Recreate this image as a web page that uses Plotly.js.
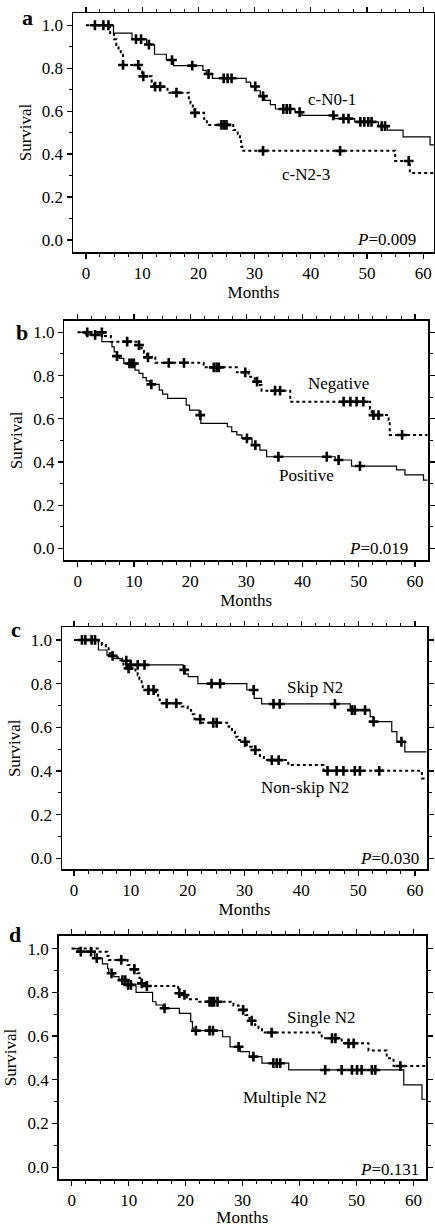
<!DOCTYPE html>
<html><head><meta charset="utf-8">
<script src="https://cdn.plot.ly/plotly-3.0.1.min.js"></script>
<style>html,body{margin:0;padding:0;background:#fff}#chart{width:435px;height:1227px}</style>
</head><body><div id="chart"></div>
<script>
// ---------- Panel a: clinical N status ----------
const aN01Time = [0, 4.9, 8.2, 10.8, 12.2, 14.3, 15.6, 20.8, 21.4, 22.5, 28.5, 29.3, 30.2, 31, 31.8, 32.8, 33.7, 37.2, 38.4, 44.2, 47.8, 52.0, 53.6, 56.4, 61.2, 62];
const aN01Surv = [1.0, 0.963, 0.935, 0.91, 0.865, 0.838, 0.812, 0.79, 0.773, 0.753, 0.735, 0.715, 0.695, 0.67, 0.65, 0.63, 0.61, 0.595, 0.58, 0.565, 0.55, 0.53, 0.512, 0.48, 0.443, 0.443];
const aN01Cens = [1.6, 3.1, 8.9, 9.8, 11.2, 15.3, 18.9, 21.8, 24.5, 25.2, 25.9, 30.1, 31.5, 35.1, 35.7, 36.3, 38.0, 44.0, 45.8, 46.7, 48.8, 49.5, 50.2, 50.8, 52.6, 53.2];
const aN23Time = [0, 4.3, 5.0, 5.4, 5.8, 6.2, 6.6, 9.6, 10.0, 11.7, 12.1, 14.5, 18.3, 18.6, 19.0, 19.3, 21.0, 21.5, 26.2, 27.0, 27.4, 27.6, 27.8, 55.0, 57.6, 62];
const aN23Surv = [1.0, 0.958, 0.935, 0.908, 0.885, 0.862, 0.815, 0.784, 0.762, 0.737, 0.714, 0.686, 0.66, 0.635, 0.613, 0.592, 0.564, 0.536, 0.512, 0.492, 0.461, 0.435, 0.415, 0.368, 0.312, 0.312];
const aN23Cens = [4.0, 6.6, 9.3, 10.2, 12.3, 13.2, 16.1, 19.4, 24.1, 24.6, 25.0, 31.5, 45.2, 57.4];

// ---------- Panel b: Positive / Negative ----------
const bPosTime = [0, 1.4, 4.3, 6.1, 6.5, 7.0, 7.4, 8.2, 10.2, 10.9, 11.6, 12.2, 12.8, 14.5, 15.1, 16.0, 19.3, 19.9, 21.6, 21.9, 26.6, 27.4, 28.3, 29.2, 31.0, 32.4, 33.6, 45.8, 48.7, 56.7, 58.2, 61.5, 62.2];
const bPosSurv = [1.0, 0.988, 0.957, 0.933, 0.91, 0.89, 0.88, 0.856, 0.825, 0.81, 0.79, 0.775, 0.759, 0.733, 0.714, 0.694, 0.663, 0.64, 0.617, 0.579, 0.563, 0.54, 0.525, 0.509, 0.478, 0.455, 0.424, 0.409, 0.381, 0.363, 0.34, 0.316, 0.316];
const bPosCens = [3.1, 7.0, 9.2, 9.6, 10.0, 13.1, 21.8, 30.1, 31.6, 35.7, 44.3, 46.4, 50.2];
const bNegTime = [0, 4.5, 5.9, 10.9, 11.3, 11.8, 12.3, 13.8, 22.4, 28.3, 30.4, 31.5, 32.0, 32.7, 37.8, 52.0, 52.3, 55.3, 55.5, 62.2];
const bNegSurv = [1.0, 0.983, 0.957, 0.941, 0.926, 0.906, 0.884, 0.859, 0.838, 0.815, 0.794, 0.772, 0.756, 0.73, 0.679, 0.648, 0.617, 0.594, 0.525, 0.525];
const bNegCens = [1.7, 4.3, 8.8, 10.9, 12.5, 16.2, 18.9, 24.2, 24.7, 25.1, 29.8, 31.9, 35.1, 36.0, 47.3, 48.5, 49.6, 50.8, 52.6, 53.5, 57.7];

// ---------- Panel c: Skip / Non-skip N2 ----------
const cSkipTime = [0, 4.3, 5.8, 6.9, 8.1, 9.9, 19.2, 19.6, 20.1, 21.8, 30.4, 31.7, 33.0, 48.6, 52.1, 52.7, 55.9, 56.8, 58.2, 62.0];
const cSkipSurv = [1.0, 0.954, 0.931, 0.916, 0.905, 0.886, 0.863, 0.845, 0.832, 0.80, 0.771, 0.733, 0.707, 0.679, 0.649, 0.626, 0.58, 0.534, 0.488, 0.488];
const cSkipCens = [1.4, 3.1, 9.2, 10.0, 11.2, 12.4, 19.4, 24.2, 25.7, 31.6, 35.1, 36.2, 45.9, 48.9, 49.4, 51.2, 52.7, 57.6];
const cNonTime = [0, 4.3, 4.9, 5.6, 6.1, 6.6, 7.7, 8.4, 8.7, 9.6, 10.8, 11.2, 11.5, 11.9, 12.1, 12.4, 14.4, 14.8, 15.1, 18.9, 20.0, 20.6, 21.2, 22.5, 27.2, 27.8, 28.3, 28.8, 29.6, 30.4, 31.3, 32.7, 33.4, 37.7, 43.9, 61.2, 62.0];
const cNonSurv = [1.0, 0.992, 0.977, 0.962, 0.939, 0.927, 0.916, 0.90, 0.878, 0.87, 0.855, 0.84, 0.82, 0.80, 0.783, 0.771, 0.748, 0.728, 0.71, 0.695, 0.679, 0.66, 0.637, 0.621, 0.603, 0.58, 0.557, 0.542, 0.534, 0.511, 0.496, 0.469, 0.45, 0.427, 0.401, 0.366, 0.366];
const cNonCens = [2.0, 3.7, 6.8, 9.6, 13.1, 14.0, 16.3, 18.0, 22.2, 24.5, 25.1, 30.1, 31.9, 34.8, 36.0, 44.6, 46.2, 47.4, 49.4, 50.3, 53.7];

// ---------- Panel d: Single / Multiple N2 ----------
const dMulTime = [0, 1.1, 4.0, 5.4, 6.3, 6.5, 7.4, 8.3, 9.8, 11.3, 14.2, 14.8, 16.0, 18.9, 20.9, 21.2, 21.4, 26.5, 27.8, 29.6, 31.2, 33.4, 38.1, 58.3, 61.5, 62.1];
const dMulSurv = [1.0, 0.986, 0.956, 0.93, 0.91, 0.887, 0.872, 0.856, 0.834, 0.80, 0.757, 0.742, 0.727, 0.704, 0.666, 0.636, 0.625, 0.597, 0.551, 0.529, 0.506, 0.476, 0.445, 0.377, 0.311, 0.311];
const dMulCens = [1.6, 3.4, 4.4, 7.0, 8.9, 9.4, 9.9, 10.4, 16.3, 21.8, 24.2, 24.8, 29.3, 31.9, 35.4, 36.0, 36.6, 44.5, 47.4, 49.2, 50.1, 50.9, 52.7, 53.3];
const dSinTime = [0, 4.9, 6.3, 6.5, 9.8, 11.0, 11.5, 11.9, 12.3, 13.0, 18.7, 19.3, 20.2, 22.4, 28.4, 29.3, 30.5, 31.2, 32.2, 32.8, 33.4, 43.9, 47.4, 52.1, 55.3, 56.5, 62.2];
const dSinSurv = [1.0, 0.986, 0.966, 0.948, 0.925, 0.905, 0.887, 0.865, 0.841, 0.829, 0.796, 0.788, 0.768, 0.757, 0.74, 0.72, 0.696, 0.67, 0.651, 0.636, 0.616, 0.59, 0.567, 0.534, 0.498, 0.463, 0.463];
const dSinCens = [8.7, 11.0, 12.3, 13.2, 18.9, 19.8, 24.2, 24.6, 25.0, 25.6, 30.1, 31.6, 35.1, 45.7, 46.3, 48.6, 49.5, 57.7];

const xTickVals = [0, 10, 20, 30, 40, 50, 60];
const yTickVals = [0.0, 0.2, 0.4, 0.6, 0.8, 1.0];

const FONT = 'Liberation Serif, Times New Roman, serif';

function survAt(t, T, S) {
  let v = S[0];
  for (let i = 0; i < T.length; i++) { if (T[i] <= t) v = S[i]; else break; }
  return v;
}

function curve(T, S, dotted, xa, ya) {
  return {x: T, y: S, xaxis: xa, yaxis: ya, type: 'scatter', mode: 'lines',
    line: {shape: 'hv', color: 'black', width: dotted ? 2 : 1.2, dash: dotted ? 'dot' : 'solid'},
    hoverinfo: 'skip'};
}
function cens(C, T, S, xa, ya) {
  return {x: C, y: C.map(t => survAt(t, T, S)), xaxis: xa, yaxis: ya, type: 'scatter', mode: 'markers',
    marker: {symbol: 'cross-thin', size: 7, color: 'black', line: {width: 2.6, color: 'black'}},
    hoverinfo: 'skip'};
}

const data = [
  curve(aN01Time, aN01Surv, false, 'x', 'y'), cens(aN01Cens, aN01Time, aN01Surv, 'x', 'y'),
  curve(aN23Time, aN23Surv, true, 'x', 'y'), cens(aN23Cens, aN23Time, aN23Surv, 'x', 'y'),
  curve(bPosTime, bPosSurv, false, 'x2', 'y2'), cens(bPosCens, bPosTime, bPosSurv, 'x2', 'y2'),
  curve(bNegTime, bNegSurv, true, 'x2', 'y2'), cens(bNegCens, bNegTime, bNegSurv, 'x2', 'y2'),
  curve(cSkipTime, cSkipSurv, false, 'x3', 'y3'), cens(cSkipCens, cSkipTime, cSkipSurv, 'x3', 'y3'),
  curve(cNonTime, cNonSurv, true, 'x3', 'y3'), cens(cNonCens, cNonTime, cNonSurv, 'x3', 'y3'),
  curve(dMulTime, dMulSurv, false, 'x4', 'y4'), cens(dMulCens, dMulTime, dMulSurv, 'x4', 'y4'),
  curve(dSinTime, dSinSurv, true, 'x4', 'y4'), cens(dSinCens, dSinTime, dSinSurv, 'x4', 'y4')
];

const W = 435, H = 1227;
const FS = 17;
function common() {
  return {showline: true, linecolor: 'black', linewidth: 1.5, mirror: 'ticks', ticks: 'outside',
    ticklen: 5, tickwidth: 1.2, tickcolor: 'black', showgrid: false, zeroline: false, automargin: false,
    tickfont: {family: FONT, size: FS, color: 'black'}, fixedrange: true};
}
function xAx(left, right, r, anchor) {
  return Object.assign(common(), {domain: [left / W, right / W], range: r, anchor: anchor,
    tickmode: 'array', tickvals: xTickVals, ticktext: xTickVals.map(String),
    minor: {ticks: 'outside', ticklen: 3, tickwidth: 1, tickcolor: 'black', dtick: 2.5, tick0: 0, showgrid: false},
    title: {text: 'Months', font: {family: FONT, size: FS, color: 'black'}, standoff: 0}});
}
function yAx(top, bottom, r, anchor) {
  return Object.assign(common(), {domain: [1 - bottom / H, 1 - top / H], range: r, anchor: anchor,
    tickmode: 'array', tickvals: yTickVals, ticktext: yTickVals.map(v => v.toFixed(1)),
    minor: {ticks: 'outside', ticklen: 3, tickwidth: 1, tickcolor: 'black', dtick: 0.1, tick0: 0, showgrid: false},
    title: {text: 'Survival', font: {family: FONT, size: FS, color: 'black'}, standoff: 6}});
}

function lbl(text, x, y, xr, yr, xanchor) {
  return {text: text, x: x, y: y, xref: xr, yref: yr, showarrow: false, xanchor: xanchor || 'center', yanchor: 'middle',
    font: {family: FONT, size: FS, color: 'black'}};
}
function letter(text, px, py) {
  return {text: '<b>' + text + '</b>', x: px / W, y: 1 - py / H, xref: 'paper', yref: 'paper', showarrow: false,
    xanchor: 'center', yanchor: 'middle', font: {family: FONT, size: 22, color: 'black'}};
}

const layout = {
  width: W, height: H, margin: {l: 0, r: 0, t: 0, b: 0}, paper_bgcolor: 'white', plot_bgcolor: 'white',
  showlegend: false,
  xaxis: xAx(73, 434, [-2.3, 61.9], 'y'),
  yaxis: yAx(13, 252, [-0.056, 1.057], 'x'),
  xaxis2: xAx(64.3, 428, [-2.38, 62.3], 'y2'),
  yaxis2: yAx(320.7, 560, [-0.054, 1.054], 'x2'),
  xaxis3: xAx(62, 427, [-2.11, 62.1], 'y3'),
  yaxis3: yAx(627.3, 869.3, [-0.050, 1.058], 'x3'),
  xaxis4: xAx(58.7, 426, [-2.28, 62.2], 'y4'),
  yaxis4: yAx(935.7, 1179.3, [-0.055, 1.059], 'x4'),
  annotations: [
    letter('a', 27, 17), letter('b', 22, 333), letter('c', 16, 629), letter('d', 15, 934),
    lbl('c-N0-1', 43.7, 0.655, 'x', 'y'), lbl('c-N2-3', 39.1, 0.307, 'x', 'y'),
    lbl('<i>P</i>=0.009', 59, 0.0, 'x', 'y', 'right'),
    lbl('Negative', 46.3, 0.764, 'x2', 'y2'), lbl('Positive', 40.7, 0.339, 'x2', 'y2'),
    lbl('<i>P</i>=0.019', 59.1, 0.0, 'x2', 'y2', 'right'),
    lbl('Skip N2', 42.4, 0.783, 'x3', 'y3'), lbl('Non-skip N2', 40.6, 0.325, 'x3', 'y3'),
    lbl('<i>P</i>=0.030', 61.0, 0.0, 'x3', 'y3', 'right'),
    lbl('Single N2', 43.8, 0.686, 'x4', 'y4'), lbl('Multiple N2', 37.4, 0.32, 'x4', 'y4'),
    lbl('<i>P</i>=0.131', 61.3, -0.01, 'x4', 'y4', 'right')
  ]
};

Plotly.newPlot('chart', data, layout, {staticPlot: true, displayModeBar: false});
</script>
</body></html>
